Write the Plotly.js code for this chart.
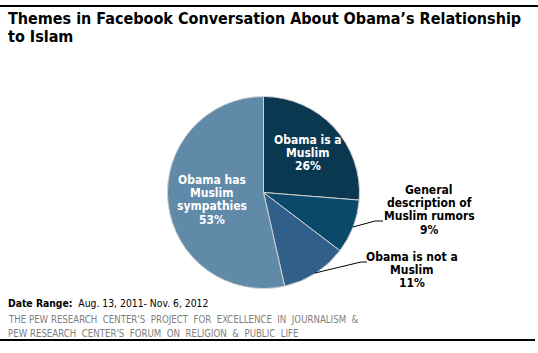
<!DOCTYPE html>
<html><head><meta charset="utf-8">
<script src="https://cdn.plot.ly/plotly-3.0.1.min.js"></script>
<style>body{margin:0;padding:0;background:#fff}#chart{width:538px;height:353px}</style>
</head><body><div id="chart"></div>
<script>
const categories = ["Obama is a<br>Muslim", "General<br>description of<br>Muslim rumors", "Obama is not a<br>Muslim", "Obama has<br>Muslim<br>sympathies"];
const values = [26, 9, 11, 53];
const sliceColors = ["#0b3851", "#0a4969", "#30608a", "#6189a8"];
const titleLines = ["Themes in Facebook Conversation About Obama’s Relationship", "to Islam"];
const dateLabel = "<b>Date Range:</b>  Aug. 13, 2011- Nov. 6, 2012";
const sourceLines = ["THE PEW RESEARCH  CENTER'S  PROJECT  FOR  EXCELLENCE  IN  JOURNALISM  &", "PEW RESEARCH  CENTER'S  FORUM  ON  RELIGION  &  PUBLIC  LIFE"];

const W = 538, H = 353;
const cx = 263.5, cy = 192.5, r = 96;
const px = x => x / W, py = y => 1 - y / H;

const font = "'DejaVu Sans Condensed', 'DejaVu Sans', sans-serif";
const labelPos = [
  {x: 308, y: 140, color: "#ffffff"},
  {x: 429, y: 190, color: "#000000"},
  {x: 412, y: 257, color: "#000000"},
  {x: 212, y: 180, color: "#ffffff"}
];
const lineGap = 13.2;
const annotations = [];
categories.forEach((c, i) => {
  const lines = c.split("<br>").concat([values[i] + "%"]);
  lines.forEach((t, j) => annotations.push({
    xref: "paper", yref: "paper", x: px(labelPos[i].x), y: py(labelPos[i].y + j * lineGap),
    xanchor: "center", yanchor: "middle", showarrow: false,
    text: "<b>" + t + "</b>",
    font: {family: font, size: 12, color: labelPos[i].color}
  }));
});
titleLines.forEach((t, j) => annotations.push({
  xref: "paper", yref: "paper", x: px(6), y: py(19 + j * 17.5), xanchor: "left", yanchor: "middle",
  showarrow: false, align: "left", text: "<b>" + t + "</b>",
  font: {family: font, size: 16, color: "#000"}
}));
annotations.push({
  xref: "paper", yref: "paper", x: px(6), y: py(303), xanchor: "left", yanchor: "middle",
  showarrow: false, align: "left", text: dateLabel,
  font: {family: font, size: 10.3, color: "#000"}
});
sourceLines.forEach((t, j) => annotations.push({
  xref: "paper", yref: "paper", x: px(6), y: py(319.5 + j * 13.5), xanchor: "left", yanchor: "middle",
  showarrow: false, align: "left", text: t,
  font: {family: font, size: 9.6, color: "#808080"}
}));

const shapes = [
  {type: "line", xref: "paper", yref: "paper", x0: 0, x1: 1, y0: py(6), y1: py(6), line: {color: "#000", width: 2}},
  {type: "line", xref: "paper", yref: "paper", x0: 0, x1: px(535), y0: py(340), y1: py(340), line: {color: "#000", width: 2}},
  {type: "path", xref: "paper", yref: "paper",
   path: `M ${px(353)} ${py(227)} L ${px(375)} ${py(221)} L ${px(383)} ${py(221)}`, line: {color: "#000", width: 1}},
  {type: "path", xref: "paper", yref: "paper",
   path: `M ${px(315)} ${py(273)} L ${px(361)} ${py(262)} L ${px(367)} ${py(262)}`, line: {color: "#000", width: 1}}
];

const data = [{
  type: "pie", values: values, labels: categories, sort: false, direction: "clockwise", rotation: 0,
  marker: {colors: sliceColors, line: {color: "#d0d0d0", width: 1}},
  textinfo: "none", hoverinfo: "none",
  domain: {x: [px(cx - r), px(cx + r)], y: [py(cy + r), py(cy - r)]}
}];
const layout = {
  width: W, height: H, margin: {l: 0, r: 0, t: 0, b: 0}, showlegend: false,
  paper_bgcolor: "#fff", plot_bgcolor: "#fff", annotations: annotations, shapes: shapes
};
Plotly.newPlot("chart", data, layout, {staticPlot: true});
</script></body></html>
